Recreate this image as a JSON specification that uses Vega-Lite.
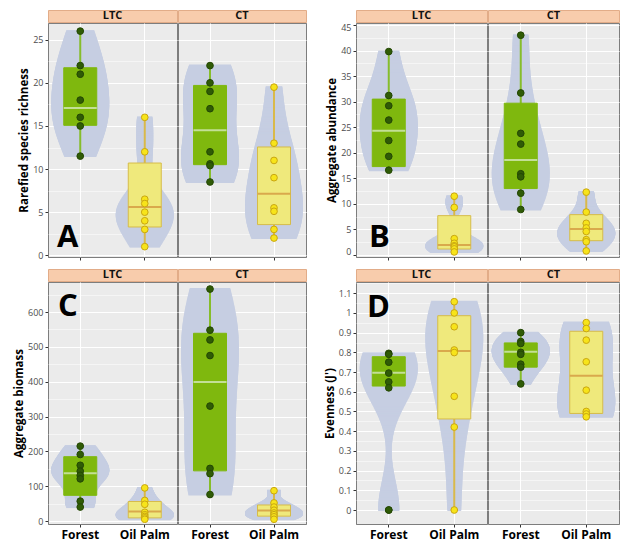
{
"$schema": "https://vega.github.io/schema/vega-lite/v6.json",
"background": "white",
"autosize": {"type": "pad"},
"padding": {"left": 13, "top": 9, "right": 0, "bottom": 0},
"datasets": {
"pts": [
{"panel":"A","site":"LTC","habitat":"Forest","value":26},{"panel":"A","site":"LTC","habitat":"Forest","value":22},{"panel":"A","site":"LTC","habitat":"Forest","value":21},{"panel":"A","site":"LTC","habitat":"Forest","value":18},{"panel":"A","site":"LTC","habitat":"Forest","value":16},{"panel":"A","site":"LTC","habitat":"Forest","value":15},{"panel":"A","site":"LTC","habitat":"Forest","value":11.5},
{"panel":"A","site":"LTC","habitat":"Oil Palm","value":16},{"panel":"A","site":"LTC","habitat":"Oil Palm","value":12},{"panel":"A","site":"LTC","habitat":"Oil Palm","value":6.5},{"panel":"A","site":"LTC","habitat":"Oil Palm","value":6},{"panel":"A","site":"LTC","habitat":"Oil Palm","value":5},{"panel":"A","site":"LTC","habitat":"Oil Palm","value":4},{"panel":"A","site":"LTC","habitat":"Oil Palm","value":3},{"panel":"A","site":"LTC","habitat":"Oil Palm","value":1},
{"panel":"A","site":"CT","habitat":"Forest","value":22},{"panel":"A","site":"CT","habitat":"Forest","value":20},{"panel":"A","site":"CT","habitat":"Forest","value":19},{"panel":"A","site":"CT","habitat":"Forest","value":17},{"panel":"A","site":"CT","habitat":"Forest","value":12},{"panel":"A","site":"CT","habitat":"Forest","value":10.6},{"panel":"A","site":"CT","habitat":"Forest","value":10.4},{"panel":"A","site":"CT","habitat":"Forest","value":8.5},
{"panel":"A","site":"CT","habitat":"Oil Palm","value":19.5},{"panel":"A","site":"CT","habitat":"Oil Palm","value":13},{"panel":"A","site":"CT","habitat":"Oil Palm","value":11},{"panel":"A","site":"CT","habitat":"Oil Palm","value":9},{"panel":"A","site":"CT","habitat":"Oil Palm","value":5.5},{"panel":"A","site":"CT","habitat":"Oil Palm","value":5.1},{"panel":"A","site":"CT","habitat":"Oil Palm","value":3},{"panel":"A","site":"CT","habitat":"Oil Palm","value":2},
{"panel":"B","site":"LTC","habitat":"Forest","value":39.8},{"panel":"B","site":"LTC","habitat":"Forest","value":31.2},{"panel":"B","site":"LTC","habitat":"Forest","value":29.2},{"panel":"B","site":"LTC","habitat":"Forest","value":26.4},{"panel":"B","site":"LTC","habitat":"Forest","value":22.4},{"panel":"B","site":"LTC","habitat":"Forest","value":19.3},{"panel":"B","site":"LTC","habitat":"Forest","value":16.6},
{"panel":"B","site":"LTC","habitat":"Oil Palm","value":11.5},{"panel":"B","site":"LTC","habitat":"Oil Palm","value":9.3},{"panel":"B","site":"LTC","habitat":"Oil Palm","value":3.2},{"panel":"B","site":"LTC","habitat":"Oil Palm","value":2.3},{"panel":"B","site":"LTC","habitat":"Oil Palm","value":1.8},{"panel":"B","site":"LTC","habitat":"Oil Palm","value":1.6},{"panel":"B","site":"LTC","habitat":"Oil Palm","value":1.2},{"panel":"B","site":"LTC","habitat":"Oil Palm","value":0.6},
{"panel":"B","site":"CT","habitat":"Forest","value":43},{"panel":"B","site":"CT","habitat":"Forest","value":31.7},{"panel":"B","site":"CT","habitat":"Forest","value":23.8},{"panel":"B","site":"CT","habitat":"Forest","value":21.7},{"panel":"B","site":"CT","habitat":"Forest","value":15.9},{"panel":"B","site":"CT","habitat":"Forest","value":15.3},{"panel":"B","site":"CT","habitat":"Forest","value":12.1},{"panel":"B","site":"CT","habitat":"Forest","value":8.9},
{"panel":"B","site":"CT","habitat":"Oil Palm","value":12.3},{"panel":"B","site":"CT","habitat":"Oil Palm","value":8.4},{"panel":"B","site":"CT","habitat":"Oil Palm","value":6.2},{"panel":"B","site":"CT","habitat":"Oil Palm","value":5.3},{"panel":"B","site":"CT","habitat":"Oil Palm","value":4.6},{"panel":"B","site":"CT","habitat":"Oil Palm","value":3.0},{"panel":"B","site":"CT","habitat":"Oil Palm","value":2.6},{"panel":"B","site":"CT","habitat":"Oil Palm","value":0.8},
{"panel":"C","site":"LTC","habitat":"Forest","value":215},{"panel":"C","site":"LTC","habitat":"Forest","value":191},{"panel":"C","site":"LTC","habitat":"Forest","value":160},{"panel":"C","site":"LTC","habitat":"Forest","value":143},{"panel":"C","site":"LTC","habitat":"Forest","value":131},{"panel":"C","site":"LTC","habitat":"Forest","value":121},{"panel":"C","site":"LTC","habitat":"Forest","value":57},{"panel":"C","site":"LTC","habitat":"Forest","value":40},
{"panel":"C","site":"LTC","habitat":"Oil Palm","value":95},{"panel":"C","site":"LTC","habitat":"Oil Palm","value":59},{"panel":"C","site":"LTC","habitat":"Oil Palm","value":48},{"panel":"C","site":"LTC","habitat":"Oil Palm","value":25},{"panel":"C","site":"LTC","habitat":"Oil Palm","value":18},{"panel":"C","site":"LTC","habitat":"Oil Palm","value":13},{"panel":"C","site":"LTC","habitat":"Oil Palm","value":9},{"panel":"C","site":"LTC","habitat":"Oil Palm","value":5},
{"panel":"C","site":"CT","habitat":"Forest","value":666},{"panel":"C","site":"CT","habitat":"Forest","value":548},{"panel":"C","site":"CT","habitat":"Forest","value":520},{"panel":"C","site":"CT","habitat":"Forest","value":475},{"panel":"C","site":"CT","habitat":"Forest","value":330},{"panel":"C","site":"CT","habitat":"Forest","value":151},{"panel":"C","site":"CT","habitat":"Forest","value":136},{"panel":"C","site":"CT","habitat":"Forest","value":76},
{"panel":"C","site":"CT","habitat":"Oil Palm","value":87},{"panel":"C","site":"CT","habitat":"Oil Palm","value":52},{"panel":"C","site":"CT","habitat":"Oil Palm","value":40},{"panel":"C","site":"CT","habitat":"Oil Palm","value":31},{"panel":"C","site":"CT","habitat":"Oil Palm","value":23},{"panel":"C","site":"CT","habitat":"Oil Palm","value":18},{"panel":"C","site":"CT","habitat":"Oil Palm","value":12},{"panel":"C","site":"CT","habitat":"Oil Palm","value":5},
{"panel":"D","site":"LTC","habitat":"Forest","value":0.795},{"panel":"D","site":"LTC","habitat":"Forest","value":0.79},{"panel":"D","site":"LTC","habitat":"Forest","value":0.75},{"panel":"D","site":"LTC","habitat":"Forest","value":0.695},{"panel":"D","site":"LTC","habitat":"Forest","value":0.65},{"panel":"D","site":"LTC","habitat":"Forest","value":0.62},{"panel":"D","site":"LTC","habitat":"Forest","value":0},{"panel":"D","site":"LTC","habitat":"Forest","value":0},
{"panel":"D","site":"LTC","habitat":"Oil Palm","value":1.057},{"panel":"D","site":"LTC","habitat":"Oil Palm","value":1.0},{"panel":"D","site":"LTC","habitat":"Oil Palm","value":0.93},{"panel":"D","site":"LTC","habitat":"Oil Palm","value":0.812},{"panel":"D","site":"LTC","habitat":"Oil Palm","value":0.799},{"panel":"D","site":"LTC","habitat":"Oil Palm","value":0.577},{"panel":"D","site":"LTC","habitat":"Oil Palm","value":0.421},{"panel":"D","site":"LTC","habitat":"Oil Palm","value":0},
{"panel":"D","site":"CT","habitat":"Forest","value":0.9},{"panel":"D","site":"CT","habitat":"Forest","value":0.855},{"panel":"D","site":"CT","habitat":"Forest","value":0.845},{"panel":"D","site":"CT","habitat":"Forest","value":0.8},{"panel":"D","site":"CT","habitat":"Forest","value":0.79},{"panel":"D","site":"CT","habitat":"Forest","value":0.74},{"panel":"D","site":"CT","habitat":"Forest","value":0.725},{"panel":"D","site":"CT","habitat":"Forest","value":0.64},
{"panel":"D","site":"CT","habitat":"Oil Palm","value":0.951},{"panel":"D","site":"CT","habitat":"Oil Palm","value":0.921},{"panel":"D","site":"CT","habitat":"Oil Palm","value":0.862},{"panel":"D","site":"CT","habitat":"Oil Palm","value":0.752},{"panel":"D","site":"CT","habitat":"Oil Palm","value":0.608},{"panel":"D","site":"CT","habitat":"Oil Palm","value":0.5},{"panel":"D","site":"CT","habitat":"Oil Palm","value":0.487},{"panel":"D","site":"CT","habitat":"Oil Palm","value":0.473}
],
"box": [
{"panel":"A","site":"LTC","habitat":"Forest","lower":11.5,"q1":15.07,"median":17.08,"q3":21.75,"upper":26},
{"panel":"A","site":"LTC","habitat":"Oil Palm","lower":1,"q1":3.28,"median":5.6,"q3":10.7,"upper":16},
{"panel":"A","site":"CT","habitat":"Forest","lower":8.5,"q1":10.51,"median":14.49,"q3":19.7,"upper":22},
{"panel":"A","site":"CT","habitat":"Oil Palm","lower":2,"q1":3.56,"median":7.15,"q3":12.56,"upper":19.5},
{"panel":"B","site":"LTC","habitat":"Forest","lower":16.6,"q1":17.3,"median":24.3,"q3":30.5,"upper":39.8},
{"panel":"B","site":"LTC","habitat":"Oil Palm","lower":0.6,"q1":1.17,"median":1.96,"q3":7.7,"upper":11.5},
{"panel":"B","site":"CT","habitat":"Forest","lower":8.9,"q1":13.0,"median":18.6,"q3":29.7,"upper":43},
{"panel":"B","site":"CT","habitat":"Oil Palm","lower":0.8,"q1":2.8,"median":5.1,"q3":7.9,"upper":12.3},
{"panel":"C","site":"LTC","habitat":"Forest","lower":40,"q1":73.7,"median":136.8,"q3":184.7,"upper":215},
{"panel":"C","site":"LTC","habitat":"Oil Palm","lower":5,"q1":9,"median":27,"q3":56,"upper":95},
{"panel":"C","site":"CT","habitat":"Forest","lower":76,"q1":144,"median":399,"q3":539,"upper":666},
{"panel":"C","site":"CT","habitat":"Oil Palm","lower":5,"q1":14,"median":30,"q3":46,"upper":87},
{"panel":"D","site":"LTC","habitat":"Forest","lower":0.62,"q1":0.629,"median":0.697,"q3":0.778,"upper":0.795},
{"panel":"D","site":"LTC","habitat":"Oil Palm","lower":0,"q1":0.462,"median":0.807,"q3":0.986,"upper":1.057},
{"panel":"D","site":"CT","habitat":"Forest","lower":0.64,"q1":0.725,"median":0.803,"q3":0.848,"upper":0.9},
{"panel":"D","site":"CT","habitat":"Oil Palm","lower":0.473,"q1":0.49,"median":0.681,"q3":0.907,"upper":0.951}
]
},
"columns": 2,
"align": "each",
"spacing": {"row": 7, "column": 16},
"resolve": {"scale": {"x": "independent", "y": "independent", "size": "independent"}},
"concat": [
{"hconcat": [
 {"vconcat": [
  {"width": 129, "height": 12, "view": {"fill": "#F8CCAC", "stroke": "#E2AC88", "strokeOpacity": 1}, "data": {"values": [{"label": "LTC"}]}, "mark": {"type": "text", "font": "Open Sans", "fontWeight": "bold", "fontSize": 11, "color": "#111111", "baseline": "middle"}, "encoding": {"text": {"field": "label"}}},
  {"width": 129, "height": 234,
   "title": {"text": "A", "orient": "bottom", "anchor": "start", "frame": "group", "offset": -14, "dx": 9, "baseline": "alphabetic", "font": "Open Sans", "fontSize": 31, "fontWeight": "bold", "color": "#000000"},
   "encoding": {
    "x": {"field": "habitat", "type": "nominal", "scale": {"type": "band", "domain": ["Forest", "Oil Palm"], "paddingInner": 0, "paddingOuter": 0}, "axis": {"title": null, "labels": false, "grid": true}},
    "y": {"field": "value", "type": "quantitative", "scale": {"domain": [-0.2, 26.94], "nice": false, "zero": false}, "axis": {"title": "Rarefied species richness", "values": [0,2.5,5,7.5,10,12.5,15,17.5,20,22.5,25], "labelExpr": "abs(datum.value/5 - round(datum.value/5)) < 0.001 ? format(datum.value, '~g') : ''", "tickOpacity": {"condition": {"test": "abs(datum.value/5 - round(datum.value/5)) < 0.001", "value": 1}, "value": 0}, "grid": true, "gridWidth": {"condition": {"test": "abs(datum.value/5 - round(datum.value/5)) < 0.001", "value": 1.1}, "value": 0.5}}}
   },
   "layer": [
    {"data": {"name": "pts"}, "transform": [{"filter": "datum.panel==='A' && datum.site==='LTC' && datum.habitat==='Forest'"}, {"density": "value", "groupby": ["habitat"], "steps": 200, "as": ["value", "density"]}], "mark": {"type": "tick", "orient": "horizontal", "thickness": 2, "color": "#C6CEE2", "opacity": 1}, "encoding": {"size": {"field": "density", "type": "quantitative", "scale": {"range": [0, 58], "zero": true}, "legend": null}}},
    {"data": {"name": "pts"}, "transform": [{"filter": "datum.panel==='A' && datum.site==='LTC' && datum.habitat==='Oil Palm'"}, {"density": "value", "groupby": ["habitat"], "steps": 200, "as": ["value", "density"]}], "mark": {"type": "tick", "orient": "horizontal", "thickness": 2, "color": "#C6CEE2", "opacity": 1}, "encoding": {"size": {"field": "density", "type": "quantitative", "scale": {"range": [0, 58], "zero": true}, "legend": null}}},
    {"data": {"name": "box"}, "transform": [{"filter": "datum.panel==='A' && datum.site==='LTC'"}], "mark": {"type": "rule", "strokeWidth": 2}, "encoding": {"y": {"field": "lower", "type": "quantitative"}, "y2": {"field": "upper"}, "color": {"condition": {"test": "datum.habitat==='Forest'", "value": "#86BD2B"}, "value": "#D9B94A"}}},
    {"data": {"name": "box"}, "transform": [{"filter": "datum.panel==='A' && datum.site==='LTC'"}], "mark": {"type": "bar", "size": 33, "strokeWidth": 1}, "encoding": {"y": {"field": "q1", "type": "quantitative"}, "y2": {"field": "q3"}, "fill": {"condition": {"test": "datum.habitat==='Forest'", "value": "#7FB80E"}, "value": "#EFE97C"}, "stroke": {"condition": {"test": "datum.habitat==='Forest'", "value": "#7FB80E"}, "value": "#D6BC4A"}}},
    {"data": {"name": "box"}, "transform": [{"filter": "datum.panel==='A' && datum.site==='LTC'"}], "mark": {"type": "tick", "size": 33, "thickness": 2, "opacity": 1}, "encoding": {"y": {"field": "median", "type": "quantitative"}, "color": {"condition": {"test": "datum.habitat==='Forest'", "value": "#C3DF96"}, "value": "#D9A94C"}}},
    {"data": {"name": "pts"}, "transform": [{"filter": "datum.panel==='A' && datum.site==='LTC'"}], "mark": {"type": "circle", "size": 45, "opacity": 1, "strokeWidth": 1}, "encoding": {"fill": {"condition": {"test": "datum.habitat==='Forest'", "value": "#2F5B06"}, "value": "#F7E41A"}, "stroke": {"condition": {"test": "datum.habitat==='Forest'", "value": "#244704"}, "value": "#C9A612"}}}
   ],
   "resolve": {"scale": {"size": "independent"}}}
 ], "spacing": -2, "resolve": {"scale": {"size": "independent"}}},
 {"vconcat": [
  {"width": 128, "height": 12, "view": {"fill": "#F8CCAC", "stroke": "#E2AC88", "strokeOpacity": 1}, "data": {"values": [{"label": "CT"}]}, "mark": {"type": "text", "font": "Open Sans", "fontWeight": "bold", "fontSize": 11, "color": "#111111", "baseline": "middle"}, "encoding": {"text": {"field": "label"}}},
  {"width": 128, "height": 234,
   "encoding": {
    "x": {"field": "habitat", "type": "nominal", "scale": {"type": "band", "domain": ["Forest", "Oil Palm"], "paddingInner": 0, "paddingOuter": 0}, "axis": {"title": null, "labels": false, "grid": true}},
    "y": {"field": "value", "type": "quantitative", "scale": {"domain": [-0.2, 26.94], "nice": false, "zero": false}, "axis": {"title": null, "labels": false, "ticks": false, "values": [0,2.5,5,7.5,10,12.5,15,17.5,20,22.5,25], "grid": true, "gridWidth": {"condition": {"test": "abs(datum.value/5 - round(datum.value/5)) < 0.001", "value": 1.1}, "value": 0.5}}}
   },
   "layer": [
    {"data": {"name": "pts"}, "transform": [{"filter": "datum.panel==='A' && datum.site==='CT' && datum.habitat==='Forest'"}, {"density": "value", "groupby": ["habitat"], "steps": 200, "as": ["value", "density"]}], "mark": {"type": "tick", "orient": "horizontal", "thickness": 2, "color": "#C6CEE2", "opacity": 1}, "encoding": {"size": {"field": "density", "type": "quantitative", "scale": {"range": [0, 58], "zero": true}, "legend": null}}},
    {"data": {"name": "pts"}, "transform": [{"filter": "datum.panel==='A' && datum.site==='CT' && datum.habitat==='Oil Palm'"}, {"density": "value", "groupby": ["habitat"], "steps": 200, "as": ["value", "density"]}], "mark": {"type": "tick", "orient": "horizontal", "thickness": 2, "color": "#C6CEE2", "opacity": 1}, "encoding": {"size": {"field": "density", "type": "quantitative", "scale": {"range": [0, 58], "zero": true}, "legend": null}}},
    {"data": {"name": "box"}, "transform": [{"filter": "datum.panel==='A' && datum.site==='CT'"}], "mark": {"type": "rule", "strokeWidth": 2}, "encoding": {"y": {"field": "lower", "type": "quantitative"}, "y2": {"field": "upper"}, "color": {"condition": {"test": "datum.habitat==='Forest'", "value": "#86BD2B"}, "value": "#D9B94A"}}},
    {"data": {"name": "box"}, "transform": [{"filter": "datum.panel==='A' && datum.site==='CT'"}], "mark": {"type": "bar", "size": 33, "strokeWidth": 1}, "encoding": {"y": {"field": "q1", "type": "quantitative"}, "y2": {"field": "q3"}, "fill": {"condition": {"test": "datum.habitat==='Forest'", "value": "#7FB80E"}, "value": "#EFE97C"}, "stroke": {"condition": {"test": "datum.habitat==='Forest'", "value": "#7FB80E"}, "value": "#D6BC4A"}}},
    {"data": {"name": "box"}, "transform": [{"filter": "datum.panel==='A' && datum.site==='CT'"}], "mark": {"type": "tick", "size": 33, "thickness": 2, "opacity": 1}, "encoding": {"y": {"field": "median", "type": "quantitative"}, "color": {"condition": {"test": "datum.habitat==='Forest'", "value": "#C3DF96"}, "value": "#D9A94C"}}},
    {"data": {"name": "pts"}, "transform": [{"filter": "datum.panel==='A' && datum.site==='CT'"}], "mark": {"type": "circle", "size": 45, "opacity": 1, "strokeWidth": 1}, "encoding": {"fill": {"condition": {"test": "datum.habitat==='Forest'", "value": "#2F5B06"}, "value": "#F7E41A"}, "stroke": {"condition": {"test": "datum.habitat==='Forest'", "value": "#244704"}, "value": "#C9A612"}}}
   ],
   "resolve": {"scale": {"size": "independent"}}}
 ], "spacing": -2, "resolve": {"scale": {"size": "independent"}}}
], "spacing": -2, "resolve": {"scale": {"x": "independent", "y": "independent", "size": "independent"}}},

{"hconcat": [
 {"vconcat": [
  {"width": 131, "height": 12, "view": {"fill": "#F8CCAC", "stroke": "#E2AC88", "strokeOpacity": 1}, "data": {"values": [{"label": "LTC"}]}, "mark": {"type": "text", "font": "Open Sans", "fontWeight": "bold", "fontSize": 11, "color": "#111111", "baseline": "middle"}, "encoding": {"text": {"field": "label"}}},
  {"width": 131, "height": 234,
   "title": {"text": "B", "orient": "bottom", "anchor": "start", "frame": "group", "offset": -14, "dx": 13, "baseline": "alphabetic", "font": "Open Sans", "fontSize": 31, "fontWeight": "bold", "color": "#000000"},
   "encoding": {
    "x": {"field": "habitat", "type": "nominal", "scale": {"type": "band", "domain": ["Forest", "Oil Palm"], "paddingInner": 0, "paddingOuter": 0}, "axis": {"title": null, "labels": false, "grid": true}},
    "y": {"field": "value", "type": "quantitative", "scale": {"domain": [-0.39, 45.39], "nice": false, "zero": false}, "axis": {"title": "Aggregate abundance", "labelFlush": 3, "labelFlushOffset": 1.5, "values": [0,2.5,5,7.5,10,12.5,15,17.5,20,22.5,25,27.5,30,32.5,35,37.5,40,42.5,45], "labelExpr": "abs(datum.value/5 - round(datum.value/5)) < 0.001 ? format(datum.value, '~g') : ''", "tickOpacity": {"condition": {"test": "abs(datum.value/5 - round(datum.value/5)) < 0.001", "value": 1}, "value": 0}, "grid": true, "gridWidth": {"condition": {"test": "abs(datum.value/5 - round(datum.value/5)) < 0.001", "value": 1.1}, "value": 0.5}}}
   },
   "layer": [
    {"data": {"name": "pts"}, "transform": [{"filter": "datum.panel==='B' && datum.site==='LTC' && datum.habitat==='Forest'"}, {"density": "value", "groupby": ["habitat"], "steps": 200, "as": ["value", "density"]}], "mark": {"type": "tick", "orient": "horizontal", "thickness": 2, "color": "#C6CEE2", "opacity": 1}, "encoding": {"size": {"field": "density", "type": "quantitative", "scale": {"range": [0, 58], "zero": true}, "legend": null}}},
    {"data": {"name": "pts"}, "transform": [{"filter": "datum.panel==='B' && datum.site==='LTC' && datum.habitat==='Oil Palm'"}, {"density": "value", "groupby": ["habitat"], "steps": 200, "as": ["value", "density"]}], "mark": {"type": "tick", "orient": "horizontal", "thickness": 2, "color": "#C6CEE2", "opacity": 1}, "encoding": {"size": {"field": "density", "type": "quantitative", "scale": {"range": [0, 58], "zero": true}, "legend": null}}},
    {"data": {"name": "box"}, "transform": [{"filter": "datum.panel==='B' && datum.site==='LTC'"}], "mark": {"type": "rule", "strokeWidth": 2}, "encoding": {"y": {"field": "lower", "type": "quantitative"}, "y2": {"field": "upper"}, "color": {"condition": {"test": "datum.habitat==='Forest'", "value": "#86BD2B"}, "value": "#D9B94A"}}},
    {"data": {"name": "box"}, "transform": [{"filter": "datum.panel==='B' && datum.site==='LTC'"}], "mark": {"type": "bar", "size": 33, "strokeWidth": 1}, "encoding": {"y": {"field": "q1", "type": "quantitative"}, "y2": {"field": "q3"}, "fill": {"condition": {"test": "datum.habitat==='Forest'", "value": "#7FB80E"}, "value": "#EFE97C"}, "stroke": {"condition": {"test": "datum.habitat==='Forest'", "value": "#7FB80E"}, "value": "#D6BC4A"}}},
    {"data": {"name": "box"}, "transform": [{"filter": "datum.panel==='B' && datum.site==='LTC'"}], "mark": {"type": "tick", "size": 33, "thickness": 2, "opacity": 1}, "encoding": {"y": {"field": "median", "type": "quantitative"}, "color": {"condition": {"test": "datum.habitat==='Forest'", "value": "#C3DF96"}, "value": "#D9A94C"}}},
    {"data": {"name": "pts"}, "transform": [{"filter": "datum.panel==='B' && datum.site==='LTC'"}], "mark": {"type": "circle", "size": 45, "opacity": 1, "strokeWidth": 1}, "encoding": {"fill": {"condition": {"test": "datum.habitat==='Forest'", "value": "#2F5B06"}, "value": "#F7E41A"}, "stroke": {"condition": {"test": "datum.habitat==='Forest'", "value": "#244704"}, "value": "#C9A612"}}}
   ],
   "resolve": {"scale": {"size": "independent"}}}
 ], "spacing": -2, "resolve": {"scale": {"size": "independent"}}},
 {"vconcat": [
  {"width": 131, "height": 12, "view": {"fill": "#F8CCAC", "stroke": "#E2AC88", "strokeOpacity": 1}, "data": {"values": [{"label": "CT"}]}, "mark": {"type": "text", "font": "Open Sans", "fontWeight": "bold", "fontSize": 11, "color": "#111111", "baseline": "middle"}, "encoding": {"text": {"field": "label"}}},
  {"width": 131, "height": 234,
   "encoding": {
    "x": {"field": "habitat", "type": "nominal", "scale": {"type": "band", "domain": ["Forest", "Oil Palm"], "paddingInner": 0, "paddingOuter": 0}, "axis": {"title": null, "labels": false, "grid": true}},
    "y": {"field": "value", "type": "quantitative", "scale": {"domain": [-0.39, 45.39], "nice": false, "zero": false}, "axis": {"title": null, "labels": false, "ticks": false, "values": [0,2.5,5,7.5,10,12.5,15,17.5,20,22.5,25,27.5,30,32.5,35,37.5,40,42.5,45], "grid": true, "gridWidth": {"condition": {"test": "abs(datum.value/5 - round(datum.value/5)) < 0.001", "value": 1.1}, "value": 0.5}}}
   },
   "layer": [
    {"data": {"name": "pts"}, "transform": [{"filter": "datum.panel==='B' && datum.site==='CT' && datum.habitat==='Forest'"}, {"density": "value", "groupby": ["habitat"], "steps": 200, "as": ["value", "density"]}], "mark": {"type": "tick", "orient": "horizontal", "thickness": 2, "color": "#C6CEE2", "opacity": 1}, "encoding": {"size": {"field": "density", "type": "quantitative", "scale": {"range": [0, 58], "zero": true}, "legend": null}}},
    {"data": {"name": "pts"}, "transform": [{"filter": "datum.panel==='B' && datum.site==='CT' && datum.habitat==='Oil Palm'"}, {"density": "value", "groupby": ["habitat"], "steps": 200, "as": ["value", "density"]}], "mark": {"type": "tick", "orient": "horizontal", "thickness": 2, "color": "#C6CEE2", "opacity": 1}, "encoding": {"size": {"field": "density", "type": "quantitative", "scale": {"range": [0, 58], "zero": true}, "legend": null}}},
    {"data": {"name": "box"}, "transform": [{"filter": "datum.panel==='B' && datum.site==='CT'"}], "mark": {"type": "rule", "strokeWidth": 2}, "encoding": {"y": {"field": "lower", "type": "quantitative"}, "y2": {"field": "upper"}, "color": {"condition": {"test": "datum.habitat==='Forest'", "value": "#86BD2B"}, "value": "#D9B94A"}}},
    {"data": {"name": "box"}, "transform": [{"filter": "datum.panel==='B' && datum.site==='CT'"}], "mark": {"type": "bar", "size": 33, "strokeWidth": 1}, "encoding": {"y": {"field": "q1", "type": "quantitative"}, "y2": {"field": "q3"}, "fill": {"condition": {"test": "datum.habitat==='Forest'", "value": "#7FB80E"}, "value": "#EFE97C"}, "stroke": {"condition": {"test": "datum.habitat==='Forest'", "value": "#7FB80E"}, "value": "#D6BC4A"}}},
    {"data": {"name": "box"}, "transform": [{"filter": "datum.panel==='B' && datum.site==='CT'"}], "mark": {"type": "tick", "size": 33, "thickness": 2, "opacity": 1}, "encoding": {"y": {"field": "median", "type": "quantitative"}, "color": {"condition": {"test": "datum.habitat==='Forest'", "value": "#C3DF96"}, "value": "#D9A94C"}}},
    {"data": {"name": "pts"}, "transform": [{"filter": "datum.panel==='B' && datum.site==='CT'"}], "mark": {"type": "circle", "size": 45, "opacity": 1, "strokeWidth": 1}, "encoding": {"fill": {"condition": {"test": "datum.habitat==='Forest'", "value": "#2F5B06"}, "value": "#F7E41A"}, "stroke": {"condition": {"test": "datum.habitat==='Forest'", "value": "#244704"}, "value": "#C9A612"}}}
   ],
   "resolve": {"scale": {"size": "independent"}}}
 ], "spacing": -2, "resolve": {"scale": {"size": "independent"}}}
], "spacing": -2, "resolve": {"scale": {"x": "independent", "y": "independent", "size": "independent"}}},

{"hconcat": [
 {"vconcat": [
  {"width": 129, "height": 12, "view": {"fill": "#F8CCAC", "stroke": "#E2AC88", "strokeOpacity": 1}, "data": {"values": [{"label": "LTC"}]}, "mark": {"type": "text", "font": "Open Sans", "fontWeight": "bold", "fontSize": 11, "color": "#111111", "baseline": "middle"}, "encoding": {"text": {"field": "label"}}},
  {"width": 129, "height": 242,
   "title": {"text": "C", "orient": "bottom", "anchor": "start", "frame": "group", "offset": -224, "dx": 10, "baseline": "alphabetic", "font": "Open Sans", "fontSize": 31, "fontWeight": "bold", "color": "#000000"},
   "encoding": {
    "x": {"field": "habitat", "type": "nominal", "scale": {"type": "band", "domain": ["Forest", "Oil Palm"], "paddingInner": 0, "paddingOuter": 0}, "axis": {"title": null, "labels": true, "grid": true}},
    "y": {"field": "value", "type": "quantitative", "scale": {"domain": [-8.6, 686.2], "nice": false, "zero": false}, "axis": {"title": "Aggregate biomass", "values": [0,50,100,150,200,250,300,350,400,450,500,550,600,650], "labelExpr": "abs(datum.value/100 - round(datum.value/100)) < 0.001 ? format(datum.value, '~g') : ''", "tickOpacity": {"condition": {"test": "abs(datum.value/100 - round(datum.value/100)) < 0.001", "value": 1}, "value": 0}, "grid": true, "gridWidth": {"condition": {"test": "abs(datum.value/100 - round(datum.value/100)) < 0.001", "value": 1.1}, "value": 0.5}}}
   },
   "layer": [
    {"data": {"name": "pts"}, "transform": [{"filter": "datum.panel==='C' && datum.site==='LTC' && datum.habitat==='Forest'"}, {"density": "value", "groupby": ["habitat"], "steps": 200, "as": ["value", "density"]}], "mark": {"type": "tick", "orient": "horizontal", "thickness": 2, "color": "#C6CEE2", "opacity": 1}, "encoding": {"size": {"field": "density", "type": "quantitative", "scale": {"range": [0, 58], "zero": true}, "legend": null}}},
    {"data": {"name": "pts"}, "transform": [{"filter": "datum.panel==='C' && datum.site==='LTC' && datum.habitat==='Oil Palm'"}, {"density": "value", "groupby": ["habitat"], "steps": 200, "as": ["value", "density"]}], "mark": {"type": "tick", "orient": "horizontal", "thickness": 2, "color": "#C6CEE2", "opacity": 1}, "encoding": {"size": {"field": "density", "type": "quantitative", "scale": {"range": [0, 58], "zero": true}, "legend": null}}},
    {"data": {"name": "box"}, "transform": [{"filter": "datum.panel==='C' && datum.site==='LTC'"}], "mark": {"type": "rule", "strokeWidth": 2}, "encoding": {"y": {"field": "lower", "type": "quantitative"}, "y2": {"field": "upper"}, "color": {"condition": {"test": "datum.habitat==='Forest'", "value": "#86BD2B"}, "value": "#D9B94A"}}},
    {"data": {"name": "box"}, "transform": [{"filter": "datum.panel==='C' && datum.site==='LTC'"}], "mark": {"type": "bar", "size": 33, "strokeWidth": 1}, "encoding": {"y": {"field": "q1", "type": "quantitative"}, "y2": {"field": "q3"}, "fill": {"condition": {"test": "datum.habitat==='Forest'", "value": "#7FB80E"}, "value": "#EFE97C"}, "stroke": {"condition": {"test": "datum.habitat==='Forest'", "value": "#7FB80E"}, "value": "#D6BC4A"}}},
    {"data": {"name": "box"}, "transform": [{"filter": "datum.panel==='C' && datum.site==='LTC'"}], "mark": {"type": "tick", "size": 33, "thickness": 2, "opacity": 1}, "encoding": {"y": {"field": "median", "type": "quantitative"}, "color": {"condition": {"test": "datum.habitat==='Forest'", "value": "#C3DF96"}, "value": "#D9A94C"}}},
    {"data": {"name": "pts"}, "transform": [{"filter": "datum.panel==='C' && datum.site==='LTC'"}], "mark": {"type": "circle", "size": 45, "opacity": 1, "strokeWidth": 1}, "encoding": {"fill": {"condition": {"test": "datum.habitat==='Forest'", "value": "#2F5B06"}, "value": "#F7E41A"}, "stroke": {"condition": {"test": "datum.habitat==='Forest'", "value": "#244704"}, "value": "#C9A612"}}}
   ],
   "resolve": {"scale": {"size": "independent"}}}
 ], "spacing": -2, "resolve": {"scale": {"size": "independent"}}},
 {"vconcat": [
  {"width": 128, "height": 12, "view": {"fill": "#F8CCAC", "stroke": "#E2AC88", "strokeOpacity": 1}, "data": {"values": [{"label": "CT"}]}, "mark": {"type": "text", "font": "Open Sans", "fontWeight": "bold", "fontSize": 11, "color": "#111111", "baseline": "middle"}, "encoding": {"text": {"field": "label"}}},
  {"width": 128, "height": 242,
   "encoding": {
    "x": {"field": "habitat", "type": "nominal", "scale": {"type": "band", "domain": ["Forest", "Oil Palm"], "paddingInner": 0, "paddingOuter": 0}, "axis": {"title": null, "labels": true, "grid": true}},
    "y": {"field": "value", "type": "quantitative", "scale": {"domain": [-8.6, 686.2], "nice": false, "zero": false}, "axis": {"title": null, "labels": false, "ticks": false, "values": [0,50,100,150,200,250,300,350,400,450,500,550,600,650], "grid": true, "gridWidth": {"condition": {"test": "abs(datum.value/100 - round(datum.value/100)) < 0.001", "value": 1.1}, "value": 0.5}}}
   },
   "layer": [
    {"data": {"name": "pts"}, "transform": [{"filter": "datum.panel==='C' && datum.site==='CT' && datum.habitat==='Forest'"}, {"density": "value", "groupby": ["habitat"], "steps": 200, "as": ["value", "density"]}], "mark": {"type": "tick", "orient": "horizontal", "thickness": 2, "color": "#C6CEE2", "opacity": 1}, "encoding": {"size": {"field": "density", "type": "quantitative", "scale": {"range": [0, 58], "zero": true}, "legend": null}}},
    {"data": {"name": "pts"}, "transform": [{"filter": "datum.panel==='C' && datum.site==='CT' && datum.habitat==='Oil Palm'"}, {"density": "value", "groupby": ["habitat"], "steps": 200, "as": ["value", "density"]}], "mark": {"type": "tick", "orient": "horizontal", "thickness": 2, "color": "#C6CEE2", "opacity": 1}, "encoding": {"size": {"field": "density", "type": "quantitative", "scale": {"range": [0, 58], "zero": true}, "legend": null}}},
    {"data": {"name": "box"}, "transform": [{"filter": "datum.panel==='C' && datum.site==='CT'"}], "mark": {"type": "rule", "strokeWidth": 2}, "encoding": {"y": {"field": "lower", "type": "quantitative"}, "y2": {"field": "upper"}, "color": {"condition": {"test": "datum.habitat==='Forest'", "value": "#86BD2B"}, "value": "#D9B94A"}}},
    {"data": {"name": "box"}, "transform": [{"filter": "datum.panel==='C' && datum.site==='CT'"}], "mark": {"type": "bar", "size": 33, "strokeWidth": 1}, "encoding": {"y": {"field": "q1", "type": "quantitative"}, "y2": {"field": "q3"}, "fill": {"condition": {"test": "datum.habitat==='Forest'", "value": "#7FB80E"}, "value": "#EFE97C"}, "stroke": {"condition": {"test": "datum.habitat==='Forest'", "value": "#7FB80E"}, "value": "#D6BC4A"}}},
    {"data": {"name": "box"}, "transform": [{"filter": "datum.panel==='C' && datum.site==='CT'"}], "mark": {"type": "tick", "size": 33, "thickness": 2, "opacity": 1}, "encoding": {"y": {"field": "median", "type": "quantitative"}, "color": {"condition": {"test": "datum.habitat==='Forest'", "value": "#C3DF96"}, "value": "#D9A94C"}}},
    {"data": {"name": "pts"}, "transform": [{"filter": "datum.panel==='C' && datum.site==='CT'"}], "mark": {"type": "circle", "size": 45, "opacity": 1, "strokeWidth": 1}, "encoding": {"fill": {"condition": {"test": "datum.habitat==='Forest'", "value": "#2F5B06"}, "value": "#F7E41A"}, "stroke": {"condition": {"test": "datum.habitat==='Forest'", "value": "#244704"}, "value": "#C9A612"}}}
   ],
   "resolve": {"scale": {"size": "independent"}}}
 ], "spacing": -2, "resolve": {"scale": {"size": "independent"}}}
], "spacing": -2, "resolve": {"scale": {"x": "independent", "y": "independent", "size": "independent"}}},

{"hconcat": [
 {"vconcat": [
  {"width": 131, "height": 12, "view": {"fill": "#F8CCAC", "stroke": "#E2AC88", "strokeOpacity": 1}, "data": {"values": [{"label": "LTC"}]}, "mark": {"type": "text", "font": "Open Sans", "fontWeight": "bold", "fontSize": 11, "color": "#111111", "baseline": "middle"}, "encoding": {"text": {"field": "label"}}},
  {"width": 131, "height": 242,
   "title": {"text": "D", "orient": "bottom", "anchor": "start", "frame": "group", "offset": -223.5, "dx": 11, "baseline": "alphabetic", "font": "Open Sans", "fontSize": 31, "fontWeight": "bold", "color": "#000000"},
   "encoding": {
    "x": {"field": "habitat", "type": "nominal", "scale": {"type": "band", "domain": ["Forest", "Oil Palm"], "paddingInner": 0, "paddingOuter": 0}, "axis": {"title": null, "labels": true, "grid": true}},
    "y": {"field": "value", "type": "quantitative", "scale": {"domain": [-0.071, 1.157], "nice": false, "zero": false}, "axis": {"title": "Evenness (J')", "values": [0,0.05,0.1,0.15,0.2,0.25,0.3,0.35,0.4,0.45,0.5,0.55,0.6,0.65,0.7,0.75,0.8,0.85,0.9,0.95,1,1.05,1.1,1.15], "labelExpr": "abs(datum.value*10 - round(datum.value*10)) < 0.001 ? format(datum.value, '~g') : ''", "tickOpacity": {"condition": {"test": "abs(datum.value*10 - round(datum.value*10)) < 0.001", "value": 1}, "value": 0}, "grid": true, "gridWidth": {"condition": {"test": "abs(datum.value*10 - round(datum.value*10)) < 0.001", "value": 1.1}, "value": 0.5}}}
   },
   "layer": [
    {"data": {"name": "pts"}, "transform": [{"filter": "datum.panel==='D' && datum.site==='LTC' && datum.habitat==='Forest'"}, {"density": "value", "groupby": ["habitat"], "steps": 200, "as": ["value", "density"]}], "mark": {"type": "tick", "orient": "horizontal", "thickness": 2, "color": "#C6CEE2", "opacity": 1}, "encoding": {"size": {"field": "density", "type": "quantitative", "scale": {"range": [0, 58], "zero": true}, "legend": null}}},
    {"data": {"name": "pts"}, "transform": [{"filter": "datum.panel==='D' && datum.site==='LTC' && datum.habitat==='Oil Palm'"}, {"density": "value", "groupby": ["habitat"], "steps": 200, "as": ["value", "density"]}], "mark": {"type": "tick", "orient": "horizontal", "thickness": 2, "color": "#C6CEE2", "opacity": 1}, "encoding": {"size": {"field": "density", "type": "quantitative", "scale": {"range": [0, 58], "zero": true}, "legend": null}}},
    {"data": {"name": "box"}, "transform": [{"filter": "datum.panel==='D' && datum.site==='LTC'"}], "mark": {"type": "rule", "strokeWidth": 2}, "encoding": {"y": {"field": "lower", "type": "quantitative"}, "y2": {"field": "upper"}, "color": {"condition": {"test": "datum.habitat==='Forest'", "value": "#86BD2B"}, "value": "#D9B94A"}}},
    {"data": {"name": "box"}, "transform": [{"filter": "datum.panel==='D' && datum.site==='LTC'"}], "mark": {"type": "bar", "size": 33, "strokeWidth": 1}, "encoding": {"y": {"field": "q1", "type": "quantitative"}, "y2": {"field": "q3"}, "fill": {"condition": {"test": "datum.habitat==='Forest'", "value": "#7FB80E"}, "value": "#EFE97C"}, "stroke": {"condition": {"test": "datum.habitat==='Forest'", "value": "#7FB80E"}, "value": "#D6BC4A"}}},
    {"data": {"name": "box"}, "transform": [{"filter": "datum.panel==='D' && datum.site==='LTC'"}], "mark": {"type": "tick", "size": 33, "thickness": 2, "opacity": 1}, "encoding": {"y": {"field": "median", "type": "quantitative"}, "color": {"condition": {"test": "datum.habitat==='Forest'", "value": "#C3DF96"}, "value": "#D9A94C"}}},
    {"data": {"name": "pts"}, "transform": [{"filter": "datum.panel==='D' && datum.site==='LTC'"}], "mark": {"type": "circle", "size": 45, "opacity": 1, "strokeWidth": 1}, "encoding": {"fill": {"condition": {"test": "datum.habitat==='Forest'", "value": "#2F5B06"}, "value": "#F7E41A"}, "stroke": {"condition": {"test": "datum.habitat==='Forest'", "value": "#244704"}, "value": "#C9A612"}}}
   ],
   "resolve": {"scale": {"size": "independent"}}}
 ], "spacing": -2, "resolve": {"scale": {"size": "independent"}}},
 {"vconcat": [
  {"width": 131, "height": 12, "view": {"fill": "#F8CCAC", "stroke": "#E2AC88", "strokeOpacity": 1}, "data": {"values": [{"label": "CT"}]}, "mark": {"type": "text", "font": "Open Sans", "fontWeight": "bold", "fontSize": 11, "color": "#111111", "baseline": "middle"}, "encoding": {"text": {"field": "label"}}},
  {"width": 131, "height": 242,
   "encoding": {
    "x": {"field": "habitat", "type": "nominal", "scale": {"type": "band", "domain": ["Forest", "Oil Palm"], "paddingInner": 0, "paddingOuter": 0}, "axis": {"title": null, "labels": true, "grid": true}},
    "y": {"field": "value", "type": "quantitative", "scale": {"domain": [-0.071, 1.157], "nice": false, "zero": false}, "axis": {"title": null, "labels": false, "ticks": false, "values": [0,0.05,0.1,0.15,0.2,0.25,0.3,0.35,0.4,0.45,0.5,0.55,0.6,0.65,0.7,0.75,0.8,0.85,0.9,0.95,1,1.05,1.1,1.15], "grid": true, "gridWidth": {"condition": {"test": "abs(datum.value*10 - round(datum.value*10)) < 0.001", "value": 1.1}, "value": 0.5}}}
   },
   "layer": [
    {"data": {"name": "pts"}, "transform": [{"filter": "datum.panel==='D' && datum.site==='CT' && datum.habitat==='Forest'"}, {"density": "value", "groupby": ["habitat"], "steps": 200, "as": ["value", "density"]}], "mark": {"type": "tick", "orient": "horizontal", "thickness": 2, "color": "#C6CEE2", "opacity": 1}, "encoding": {"size": {"field": "density", "type": "quantitative", "scale": {"range": [0, 58], "zero": true}, "legend": null}}},
    {"data": {"name": "pts"}, "transform": [{"filter": "datum.panel==='D' && datum.site==='CT' && datum.habitat==='Oil Palm'"}, {"density": "value", "groupby": ["habitat"], "steps": 200, "as": ["value", "density"]}], "mark": {"type": "tick", "orient": "horizontal", "thickness": 2, "color": "#C6CEE2", "opacity": 1}, "encoding": {"size": {"field": "density", "type": "quantitative", "scale": {"range": [0, 58], "zero": true}, "legend": null}}},
    {"data": {"name": "box"}, "transform": [{"filter": "datum.panel==='D' && datum.site==='CT'"}], "mark": {"type": "rule", "strokeWidth": 2}, "encoding": {"y": {"field": "lower", "type": "quantitative"}, "y2": {"field": "upper"}, "color": {"condition": {"test": "datum.habitat==='Forest'", "value": "#86BD2B"}, "value": "#D9B94A"}}},
    {"data": {"name": "box"}, "transform": [{"filter": "datum.panel==='D' && datum.site==='CT'"}], "mark": {"type": "bar", "size": 33, "strokeWidth": 1}, "encoding": {"y": {"field": "q1", "type": "quantitative"}, "y2": {"field": "q3"}, "fill": {"condition": {"test": "datum.habitat==='Forest'", "value": "#7FB80E"}, "value": "#EFE97C"}, "stroke": {"condition": {"test": "datum.habitat==='Forest'", "value": "#7FB80E"}, "value": "#D6BC4A"}}},
    {"data": {"name": "box"}, "transform": [{"filter": "datum.panel==='D' && datum.site==='CT'"}], "mark": {"type": "tick", "size": 33, "thickness": 2, "opacity": 1}, "encoding": {"y": {"field": "median", "type": "quantitative"}, "color": {"condition": {"test": "datum.habitat==='Forest'", "value": "#C3DF96"}, "value": "#D9A94C"}}},
    {"data": {"name": "pts"}, "transform": [{"filter": "datum.panel==='D' && datum.site==='CT'"}], "mark": {"type": "circle", "size": 45, "opacity": 1, "strokeWidth": 1}, "encoding": {"fill": {"condition": {"test": "datum.habitat==='Forest'", "value": "#2F5B06"}, "value": "#F7E41A"}, "stroke": {"condition": {"test": "datum.habitat==='Forest'", "value": "#244704"}, "value": "#C9A612"}}}
   ],
   "resolve": {"scale": {"size": "independent"}}}
 ], "spacing": -2, "resolve": {"scale": {"size": "independent"}}}
], "spacing": -2, "resolve": {"scale": {"x": "independent", "y": "independent", "size": "independent"}}}
],
"config": {
 "font": "Open Sans",
 "view": {"fill": "#EBEBEB", "stroke": "#1A1A1A", "strokeOpacity": 0.55, "strokeWidth": 1},
 "axis": {"labelFont": "Open Sans", "titleFont": "Open Sans", "labelFontSize": 9, "labelColor": "#4D4D4D", "labelPadding": 2, "tickSize": 3, "tickColor": "#333333", "domain": false, "gridColor": "#FFFFFF", "titleFontSize": 11.5, "titleFontWeight": "bold", "titleColor": "#000000", "titlePadding": 3},
 "axisX": {"labelFontWeight": "bold", "labelFontSize": 12, "labelColor": "#000000", "labelAngle": 0, "gridWidth": 1.1, "bandPosition": 0.5, "labelPadding": 2}
}
}
